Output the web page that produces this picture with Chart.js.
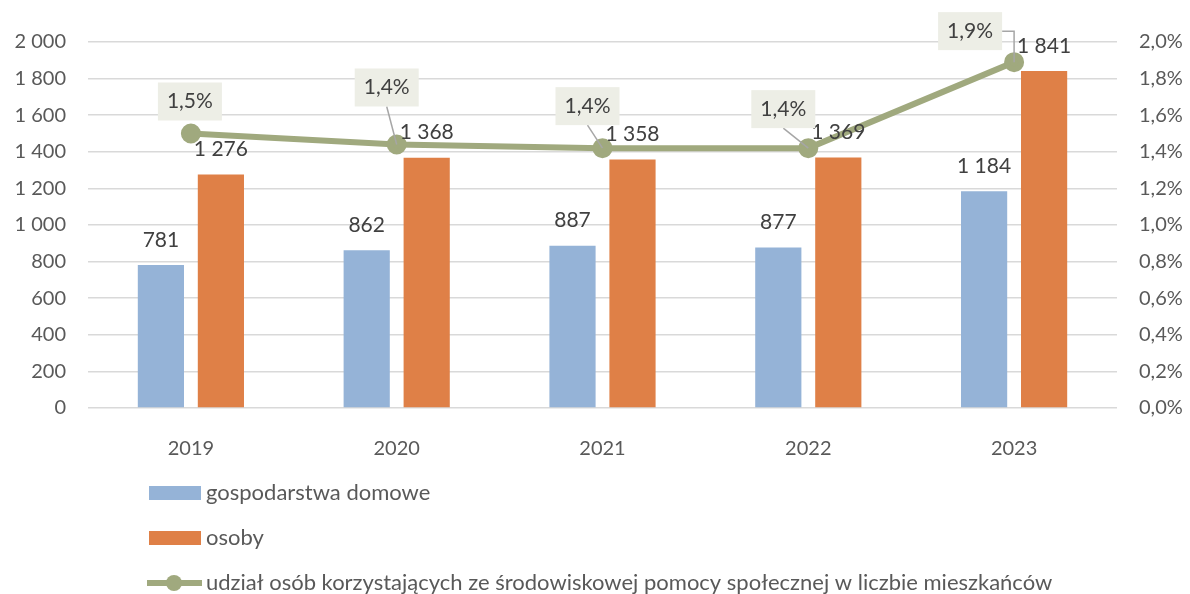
<!DOCTYPE html>
<html>
<head>
<meta charset="utf-8">
<script src="https://cdn.jsdelivr.net/npm/chart.js@4.4.1/dist/chart.umd.min.js"></script>
<style>
  html, body { margin: 0; padding: 0; background: #fff; }
  #wrap { width: 1190px; height: 594px; }
</style>
</head>
<body>
<div id="wrap"><canvas id="chart" width="1190" height="594"></canvas></div>
<script>
// data
const years = ['2019', '2020', '2021', '2022', '2023'];
const households = [781, 862, 887, 877, 1184];
const persons = [1276, 1368, 1358, 1369, 1841];
const sharePct = [1.50, 1.44, 1.42, 1.42, 1.89];
const shareLabels = ['1,5%', '1,4%', '1,4%', '1,4%', '1,9%'];
const leftTickLabels = ['0', '200', '400', '600', '800', '1 000', '1 200', '1 400', '1 600', '1 800', '2 000'];
const rightTickLabels = ['0,0%', '0,2%', '0,4%', '0,6%', '0,8%', '1,0%', '1,2%', '1,4%', '1,6%', '1,8%', '2,0%'];

// placement of the % boxes relative to their point, and leader style
const pctBoxOffsets = [[-1, -32], [-10, -57], [-15, -42], [-25, -39], [-44, -31]];
const leaderType = ['none', 'straight', 'straight', 'straight', 'elbow'];

const FONT = 'Lato, "Open Sans", sans-serif';
const fmtNum = v => String(v).replace(/\B(?=(\d{3})+(?!\d))/g, ' ');

const valueLabels = {
  id: 'valueLabels',
  afterDatasetsDraw(chart) {
    const ctx = chart.ctx;
    ctx.save();
    ctx.font = '21px ' + FONT;
    ctx.textAlign = 'center';
    ctx.textBaseline = 'middle';
    ctx.fillStyle = '#404040';
    [0, 1].forEach(di => {
      chart.getDatasetMeta(di).data.forEach((bar, i) => {
        ctx.fillText(fmtNum(chart.data.datasets[di].data[i]), bar.x, bar.y - 25);
      });
    });

    const w = 64, h = 38;
    chart.getDatasetMeta(2).data.forEach((pt, i) => {
      const cx = pt.x + pctBoxOffsets[i][0];
      const cy = pt.y + pctBoxOffsets[i][1];
      ctx.strokeStyle = '#A6A6A6';
      ctx.lineWidth = 1.5;
      if (leaderType[i] === 'straight') {
        ctx.beginPath();
        ctx.moveTo(cx, cy + h / 2);
        ctx.lineTo(pt.x, pt.y);
        ctx.stroke();
      } else if (leaderType[i] === 'elbow') {
        ctx.beginPath();
        ctx.moveTo(cx + w / 2, cy);
        ctx.lineTo(pt.x, cy);
        ctx.lineTo(pt.x, pt.y);
        ctx.stroke();
      }
      ctx.fillStyle = '#EDEEE6';
      ctx.fillRect(cx - w / 2, cy - h / 2, w, h);
      ctx.fillStyle = '#404040';
      ctx.fillText(shareLabels[i], cx, cy);
    });
    ctx.restore();
  }
};

// legend as a vertical list under the axis
const stackedLegend = {
  id: 'stackedLegend',
  afterDraw(chart) {
    const ctx = chart.ctx;
    const rows = [493, 538, 583];
    ctx.save();
    ctx.font = '22px ' + FONT;
    ctx.textBaseline = 'middle';
    ctx.textAlign = 'left';
    chart.data.datasets.forEach((ds, i) => {
      const y = rows[i];
      if (ds.type === 'line') {
        ctx.strokeStyle = ds.borderColor;
        ctx.lineWidth = 6;
        ctx.beginPath();
        ctx.moveTo(147, y);
        ctx.lineTo(202, y);
        ctx.stroke();
        ctx.fillStyle = ds.borderColor;
        ctx.beginPath();
        ctx.arc(174, y, 8, 0, Math.PI * 2);
        ctx.fill();
      } else {
        ctx.fillStyle = ds.backgroundColor;
        ctx.fillRect(149, y - 7, 52, 14);
      }
      ctx.fillStyle = '#595959';
      ctx.fillText(ds.label, 206, y);
    });
    ctx.restore();
  }
};

const ctx = document.getElementById('chart').getContext('2d');
const chart = new Chart(ctx, {
  type: 'bar',
  data: {
    labels: years,
    datasets: [
      {
        label: 'gospodarstwa domowe',
        data: households,
        backgroundColor: '#95B3D7',
        yAxisID: 'y',
        order: 1
      },
      {
        label: 'osoby',
        data: persons,
        backgroundColor: '#DF8047',
        yAxisID: 'y',
        order: 1
      },
      {
        type: 'line',
        label: 'udział osób korzystających ze środowiskowej pomocy społecznej w liczbie mieszkańców',
        data: sharePct,
        borderColor: '#A0A97E',
        backgroundColor: '#A0A97E',
        borderWidth: 6,
        pointRadius: 7,
        pointHoverRadius: 7,
        tension: 0,
        yAxisID: 'y1',
        order: 0
      }
    ]
  },
  options: {
    responsive: false,
    devicePixelRatio: 1,
    animation: false,
    categoryPercentage: 0.583,
    barPercentage: 0.77,
    layout: { padding: { top: 42, bottom: 126, left: 0, right: 0 } },
    plugins: {
      legend: { display: false },
      tooltip: { enabled: false }
    },
    scales: {
      x: {
        grid: { display: false },
        border: { display: false },
        ticks: { color: '#595959', font: { family: FONT, size: 20 }, padding: 21 },
        afterFit: s => { s.height = 60; }
      },
      y: {
        position: 'left',
        min: 0,
        max: 2000,
        ticks: {
          stepSize: 200,
          color: '#595959',
          font: { family: FONT, size: 20 },
          padding: 22,
          callback: (v, i) => leftTickLabels[i]
        },
        grid: { color: '#D9D9D9', lineWidth: 1.5, drawTicks: false },
        border: { display: false },
        afterFit: s => { s.width = 88; }
      },
      y1: {
        position: 'right',
        min: 0,
        max: 2,
        ticks: {
          stepSize: 0.2,
          color: '#595959',
          font: { family: FONT, size: 20 },
          padding: 22,
          callback: (v, i) => rightTickLabels[i]
        },
        grid: { display: false, drawTicks: false },
        border: { display: false },
        afterFit: s => { s.width = 73; }
      }
    }
  },
  plugins: [valueLabels, stackedLegend]
});
</script>
</body>
</html>
